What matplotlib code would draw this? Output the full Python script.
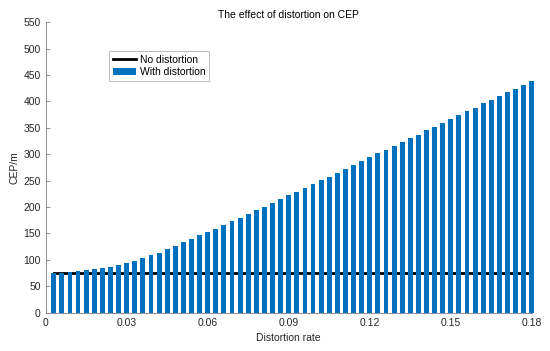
import numpy as np
import matplotlib
matplotlib.use("Agg")
import matplotlib.pyplot as plt
from matplotlib.legend_handler import HandlerPatch
from matplotlib.patches import Rectangle

plt.rcParams['font.family'] = ['Liberation Sans', 'DejaVu Sans']

# Data
distortion_rate = np.round(np.arange(1, 61) * 0.003, 3)
cep_with = [75, 75.5, 76.5, 78.5, 80, 82, 84.5, 87.5, 90.5, 94,
            98.5, 104, 109, 114, 120.4, 126.7, 133, 139.3, 146.3, 152.6,
            159, 165.5, 172.8, 179.7, 186.6, 193.8, 200.7, 207.5, 214.4, 222,
            229, 235.8, 242.7, 250.3, 257.2, 264.8, 271.8, 278.7, 286.3, 293.8,
            301.4, 307.7, 315.3, 322.5, 329.8, 337.3, 344.9, 351.8, 359.4, 366.3,
            373.9, 381.5, 388.4, 396, 402.9, 410.5, 417.4, 424.3, 431.9, 439]
cep_no = [76] * len(distortion_rate)

x_ticks = [0, 0.03, 0.06, 0.09, 0.12, 0.15, 0.18]
x_labels = ['0', '0.03', '0.06', '0.09', '0.12', '0.15', '0.18']
y_ticks = list(range(0, 551, 50))


# smaller box for the bar entry, like MATLAB legends
def small_box(legend, orig_handle, xdescent, ydescent, width, height, fontsize):
    w = width * 0.75
    h = height * 0.65
    return Rectangle((-xdescent, -ydescent + (height - h) / 2), w, h)


fig = plt.figure(figsize=(5.5, 3.51), dpi=100)
ax = fig.add_axes([0.083, 0.109, 0.884, 0.828])

ax.plot(distortion_rate, cep_no, color='black', lw=2, zorder=1, label='No distortion')
bars = ax.bar(distortion_rate, cep_with, width=0.0018, color='#0072BD', edgecolor='none',
              zorder=2, clip_on=False, label='With distortion')

ax.set_xlim(0, 0.18)
ax.set_ylim(0, 550)
ax.set_xticks(x_ticks)
ax.set_xticklabels(x_labels)
ax.set_yticks(y_ticks)

grey = '#262626'
for s in ['top', 'right']:
    ax.spines[s].set_visible(False)
for s in ['left', 'bottom']:
    ax.spines[s].set_color('#808080')
    ax.spines[s].set_linewidth(0.6)
ax.tick_params(direction='in', length=3, width=0.6, color='#808080',
               labelsize=7.5, labelcolor=grey)

ax.set_title('The effect of distortion on CEP', fontsize=7.5, color='black', pad=3)
ax.set_xlabel('Distortion rate', fontsize=7.5, color=grey, labelpad=4)
ax.set_ylabel('CEP/m', fontsize=7.5, color=grey, labelpad=3)

leg = ax.legend(loc='upper left', bbox_to_anchor=(0.13, 0.9), fontsize=7.5,
                frameon=True, fancybox=False, borderpad=0.35, handlelength=2.3,
                handletextpad=0.3, labelspacing=0.25, borderaxespad=0,
                handler_map={type(bars.patches[0]): HandlerPatch(patch_func=small_box)})
leg.get_frame().set_edgecolor('#a0a0a0')
leg.get_frame().set_linewidth(0.6)

fig.savefig('out.png', dpi=100)
